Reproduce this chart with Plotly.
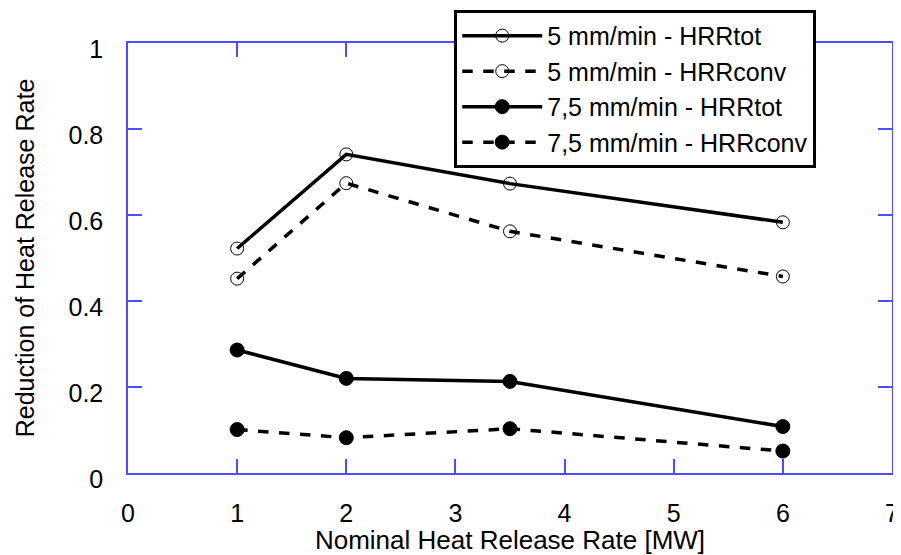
import plotly.graph_objects as go

# Nominal heat release rate [MW]
nominal_hrr = [1, 2, 3.5, 6]

# Reduction of heat release rate
red_5_tot = [0.522, 0.741, 0.673, 0.583]
red_5_conv = [0.452, 0.674, 0.562, 0.457]
red_75_tot = [0.286, 0.220, 0.213, 0.108]
red_75_conv = [0.101, 0.082, 0.103, 0.051]

series_names = [
    "5 mm/min - HRRtot",
    "5 mm/min - HRRconv",
    "7,5 mm/min - HRRtot",
    "7,5 mm/min - HRRconv",
]

x_ticks = [0, 1, 2, 3, 4, 5, 6, 7]
y_ticks = [0, 0.2, 0.4, 0.6, 0.8, 1]
y_tick_text = ["0", "0.2", "0.4", "0.6", "0.8", "1"]

FONT = "Liberation Sans, Arial, sans-serif"
AXIS_BLUE = "#4d4dff"


def make_figure():
    fig = go.Figure()

    styles = [
        (red_5_tot, "solid", "circle-open", 13),
        (red_5_conv, "dash", "circle-open", 13),
        (red_75_tot, "solid", "circle", 14),
        (red_75_conv, "dash", "circle", 14),
    ]

    for name, (values, dash, symbol, size) in zip(series_names, styles):
        fig.add_trace(go.Scatter(
            x=nominal_hrr,
            y=values,
            name=name,
            mode="lines+markers",
            line=dict(color="black", width=3.5, dash=dash),
            marker=dict(symbol=symbol, size=size, color="black",
                        line=dict(color="black", width=1)),
        ))

    axis_common = dict(
        showgrid=False,
        zeroline=False,
        showline=True,
        automargin=False,
        linecolor=AXIS_BLUE,
        linewidth=1.5,
        mirror="ticks",
        ticks="inside",
        ticklen=14,
        tickwidth=1.5,
        tickcolor=AXIS_BLUE,
        ticklabeloverflow="allow",
        tickfont=dict(family=FONT, size=25, color="black"),
    )

    fig.update_xaxes(
        range=[0, 7],
        tickvals=x_ticks,
        ticklabelstandoff=17,
        title=dict(text="Nominal Heat Release Rate [MW]",
                   font=dict(family=FONT, size=26, color="black"),
                   standoff=5),
        **axis_common,
    )
    fig.update_yaxes(
        range=[0, 1],
        tickvals=y_ticks,
        ticktext=y_tick_text,
        ticklabelstandoff=18,
        ticklabelshift=6,
        title=dict(text="Reduction of Heat Release Rate",
                   font=dict(family=FONT, size=25, color="black"),
                   standoff=27),
        **axis_common,
    )

    # the page body adds an 8px offset, so the figure is 8px smaller
    fig.update_layout(
        width=893,
        height=547,
        margin=dict(l=120, r=9, t=35, b=82, autoexpand=False),
        paper_bgcolor="white",
        plot_bgcolor="white",
        font=dict(family=FONT, size=25, color="black"),
        showlegend=True,
        legend=dict(
            x=0.427,
            y=1.077,
            xanchor="left",
            yanchor="top",
            bgcolor="white",
            bordercolor="black",
            borderwidth=3,
            font=dict(family=FONT, size=25, color="black"),
            itemwidth=80,
            tracegroupgap=0,
        ),
    )

    return fig


def main():
    fig = make_figure()
    fig.write_html("out.html")


if __name__ == "__main__":
    main()
